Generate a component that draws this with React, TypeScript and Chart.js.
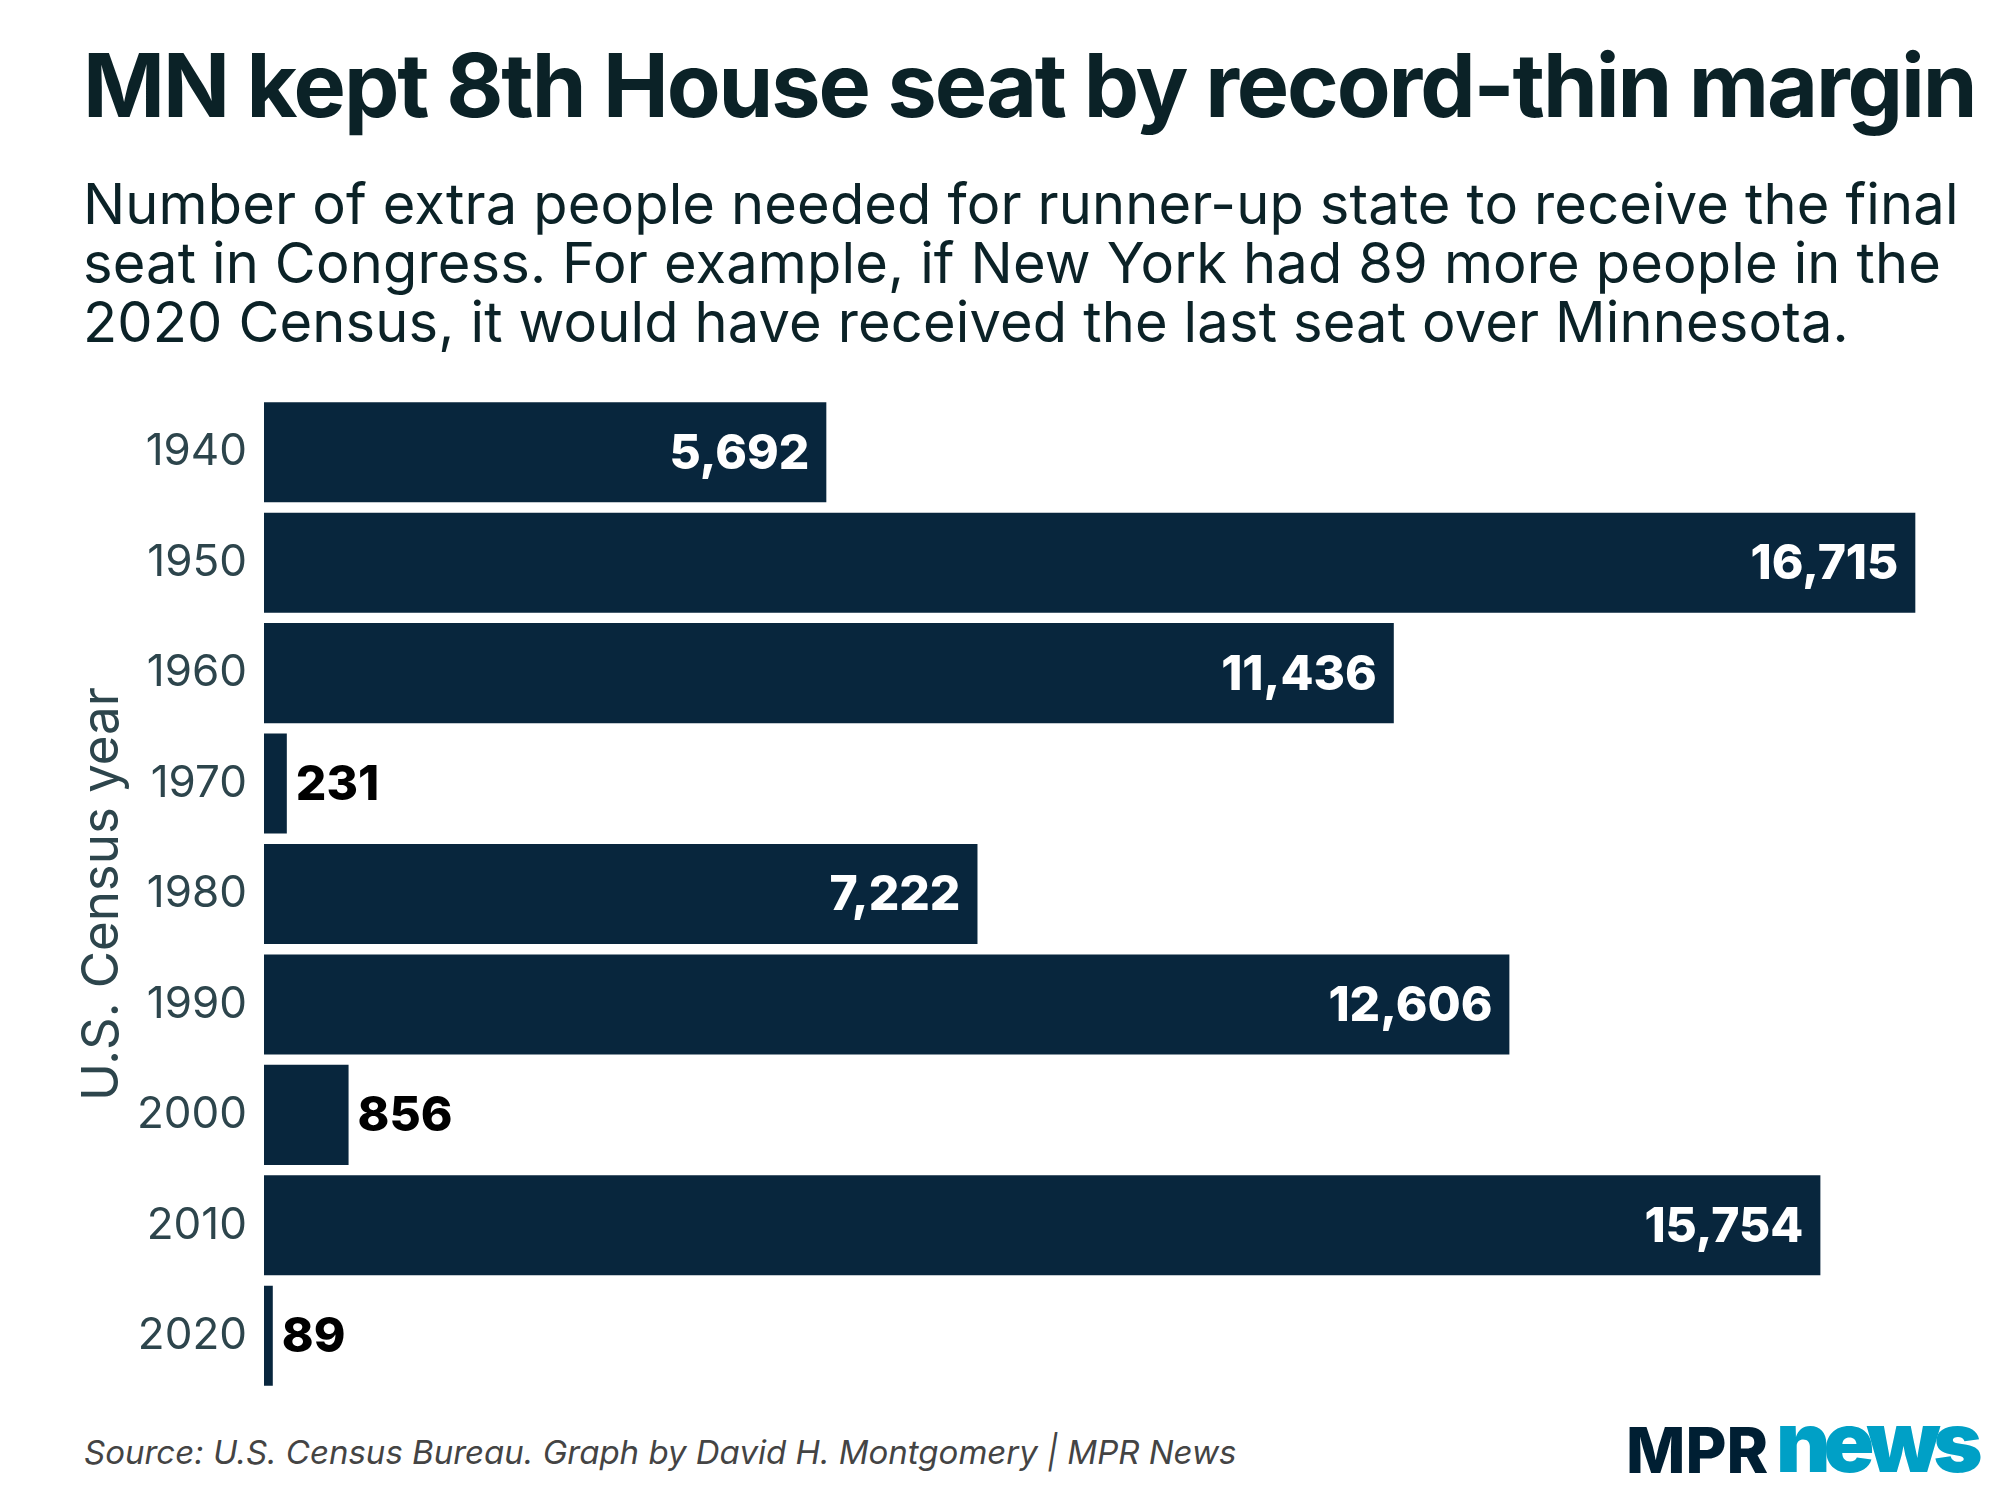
import React, { useEffect, useRef } from "react";
import { Chart, registerables } from "chart.js";

Chart.register(...registerables);

const years = ["1940", "1950", "1960", "1970", "1980", "1990", "2000", "2010", "2020"];
const extraPeople = [5692, 16715, 11436, 231, 7222, 12606, 856, 15754, 89];

const titleText = "MN kept 8th House seat by record-thin margin";
const subtitleLines = [
  "Number of extra people needed for runner-up state to receive the final",
  "seat in Congress. For example, if New York had 89 more people in the",
  "2020 Census, it would have received the last seat over Minnesota.",
];
const axisTitle = "U.S. Census year";
const sourceText = "Source: U.S. Census Bureau. Graph by David H. Montgomery | MPR News";

const BAR = "#08263d";
const TEXT = "#0b2227";
const AXIS = "#2d454c";

const valueLabels = {
  id: "valueLabels",
  afterDatasetsDraw(chart: any) {
    const ctx = chart.ctx;
    const meta = chart.getDatasetMeta(0);
    ctx.save();
    ctx.font = "800 48px Inter";
    ctx.textBaseline = "middle";
    meta.data.forEach((bar: any, i: number) => {
      const v = extraPeople[i];
      const label = v.toLocaleString("en-US");
      const inside = v > 3000;
      if (inside) {
        ctx.fillStyle = "#ffffff";
        ctx.textAlign = "right";
        ctx.fillText(label, bar.x - 17, bar.y + 2);
      } else {
        ctx.fillStyle = "#000000";
        ctx.textAlign = "left";
        ctx.fillText(label, bar.x + 9, bar.y + 2);
      }
    });
    ctx.restore();
  },
};

export default function App() {
  const ref = useRef<HTMLCanvasElement | null>(null);
  useEffect(() => {
    if (!ref.current) return;
    const chart = new Chart(ref.current, {
      type: "bar",
      data: {
        labels: years,
        datasets: [
          {
            data: extraPeople,
            backgroundColor: BAR,
            borderWidth: 0,
            categoryPercentage: 1,
            barPercentage: 0.906,
          },
        ],
      },
      options: {
        indexAxis: "y",
        animation: false,
        responsive: false,
        devicePixelRatio: 1,
        layout: { padding: { left: 0, right: 17, top: 0, bottom: 0 } },
        plugins: {
          legend: { display: false },
          tooltip: { enabled: false },
        },
        scales: {
          x: {
            display: false,
            min: 0,
            max: 17400,
          },
          y: {
            grid: { display: false, drawTicks: false },
            border: { display: false },
            ticks: {
              color: AXIS,
              font: { family: "Inter", size: 44, weight: "400" },
              padding: 17,
            },
            title: {
              display: true,
              text: axisTitle,
              color: AXIS,
              font: { family: "Inter", size: 51, weight: "400" },
              padding: { top: 72, bottom: 0 },
            },
            afterFit(scale: any) {
              scale.width = 264;
              scale.paddingTop = 0;
              scale.paddingBottom = 0;
            },
          },
        },
      },
      plugins: [valueLabels],
    });
    return () => chart.destroy();
  }, []);

  return (
    <div
      style={{
        position: "absolute",
        left: 0,
        top: 0,
        width: 2000,
        height: 1500,
        background: "#ffffff",
        fontFamily: "Inter, sans-serif",
        overflow: "hidden",
      }}
    >
      <div
        style={{
          position: "absolute",
          left: 83,
          top: 41,
          fontSize: 88,
          lineHeight: "88px",
          fontWeight: 700,
          letterSpacing: -2.1,
          color: TEXT,
          whiteSpace: "nowrap",
        }}
      >
        {titleText}
      </div>
      <div
        style={{
          position: "absolute",
          left: 83,
          top: 175,
          fontSize: 56,
          lineHeight: "59px",
          fontWeight: 400,
          letterSpacing: 0.15,
          color: TEXT,
          whiteSpace: "nowrap",
        }}
      >
        {subtitleLines.map((l, i) => (
          <div key={i}>{l}</div>
        ))}
      </div>
      <canvas
        ref={ref}
        width={2000}
        height={994}
        style={{ position: "absolute", left: 0, top: 397, width: 2000, height: 994 }}
      />
      <div
        style={{
          position: "absolute",
          left: 84,
          top: 1436,
          fontSize: 33,
          lineHeight: "33px",
          fontStyle: "italic",
          color: "#444444",
          whiteSpace: "nowrap",
        }}
      >
        {sourceText}
      </div>
      <div
        style={{
          position: "absolute",
          left: 1626,
          top: 1419,
          fontSize: 63,
          lineHeight: "63px",
          fontWeight: 800,
          color: "#001f33",
          whiteSpace: "nowrap",
        }}
      >
        MPR
      </div>
      <div
        style={{
          position: "absolute",
          left: 1776,
          top: 1400,
          fontSize: 84,
          lineHeight: "84px",
          fontWeight: 900,
          letterSpacing: -7,
          color: "#00a0c6",
          whiteSpace: "nowrap",
        }}
      >
        news
      </div>
    </div>
  );
}
